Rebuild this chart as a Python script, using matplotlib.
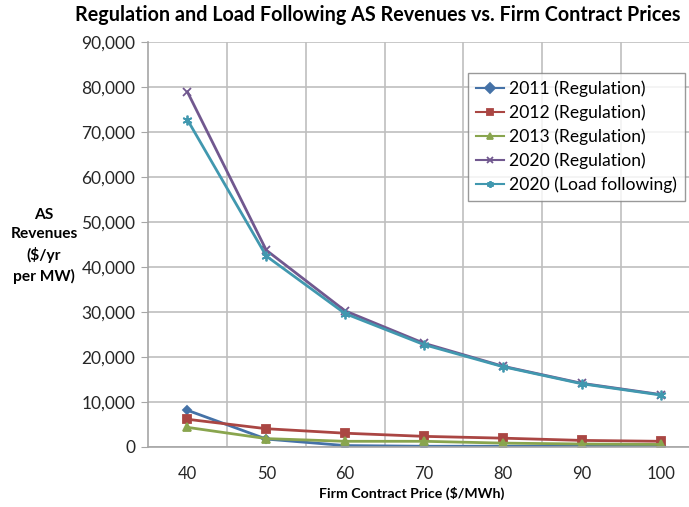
import matplotlib
matplotlib.use("Agg")
import matplotlib.pyplot as plt
from matplotlib.ticker import FuncFormatter, MultipleLocator

plt.rcParams['font.family'] = ['Lato', 'DejaVu Sans']

prices = [40, 50, 60, 70, 80, 90, 100]
reg_2011 = [8100, 1700, 250, 100, 100, 100, 100]
reg_2012 = [6100, 4000, 3000, 2300, 1900, 1400, 1200]
reg_2013 = [4300, 1800, 1200, 1200, 800, 600, 500]
reg_2020 = [78900, 43700, 30200, 23000, 17900, 14100, 11600]
lf_2020 = [72700, 42400, 29600, 22700, 17800, 14000, 11500]

series = [
    ('2011 (Regulation)', reg_2011, '#4572A7', 'D', 4),
    ('2012 (Regulation)', reg_2012, '#AA4643', 's', 6),
    ('2013 (Regulation)', reg_2013, '#89A54E', '^', 6),
    ('2020 (Regulation)', reg_2020, '#71588F', 'x', 6),
    ('2020 (Load following)', lf_2020, '#4198AF', (6, 2, 0), 7),
]

W, H = 689, 507
fig = plt.figure(figsize=(W / 100, H / 100), dpi=100)
ax = fig.add_axes([148 / W, (H - 446.7) / H, 552 / W, (446.7 - 42) / H])

xs = list(range(len(prices)))
for label, vals, color, marker, ms in series:
    ax.plot(xs, vals, color=color, marker=marker, markersize=ms, lw=2,
            markeredgewidth=1.3, label=label)

ax.set_xlim(-0.5, len(prices) - 0.5)
ax.set_ylim(0, 90000)
ax.set_xticks(xs)
ax.set_xticklabels([str(p) for p in prices])
ax.set_xticks([x + 0.5 for x in xs[:-1]], minor=True)
ax.yaxis.set_major_locator(MultipleLocator(10000))
ax.yaxis.set_major_formatter(FuncFormatter(lambda v, p: f'{int(v):,}'))

ax.grid(True, which='minor', axis='x', color='#BFBFBF', lw=1.2)
ax.grid(True, which='major', axis='y', color='#BFBFBF', lw=1.2)
ax.set_axisbelow(True)
for s in ['top', 'right']:
    ax.spines[s].set_visible(False)
for s in ['left', 'bottom']:
    ax.spines[s].set_color('#A6A6A6')
    ax.spines[s].set_linewidth(1.2)
ax.tick_params(axis='x', which='both', length=0, labelsize=12, pad=14,
               colors='#262626')
ax.tick_params(axis='y', length=5, color='#A6A6A6', labelsize=12.5, pad=4,
               labelcolor='#262626')

fig.text(378 / W, 1 - 15 / H, 'Regulation and Load Following AS Revenues vs. Firm Contract Prices',
         ha='center', va='center', fontsize=14.2, fontweight='bold', color='black')
fig.text(412 / W, 1 - 493 / H, 'Firm Contract Price ($/MWh)', ha='center', va='center',
         fontsize=10.2, fontweight='bold', color='black')
fig.text(44 / W, 1 - 246 / H, 'AS\nRevenues\n($/yr\nper MW)', ha='center', va='center',
         fontsize=11.2, fontweight='bold', color='black', linespacing=1.45)

leg = fig.legend(loc='upper left', bbox_to_anchor=(468 / W, 1 - 73 / H), fontsize=12.6,
                 frameon=True, fancybox=False, edgecolor='#808080', handlelength=1.6,
                 handletextpad=0.3, borderpad=0.45, labelspacing=0.42, borderaxespad=0)
leg.get_frame().set_linewidth(1.0)
for h in leg.legend_handles:
    h.set_markersize(5)
    h.set_linewidth(1.5)

fig.savefig('out.png', dpi=100)
